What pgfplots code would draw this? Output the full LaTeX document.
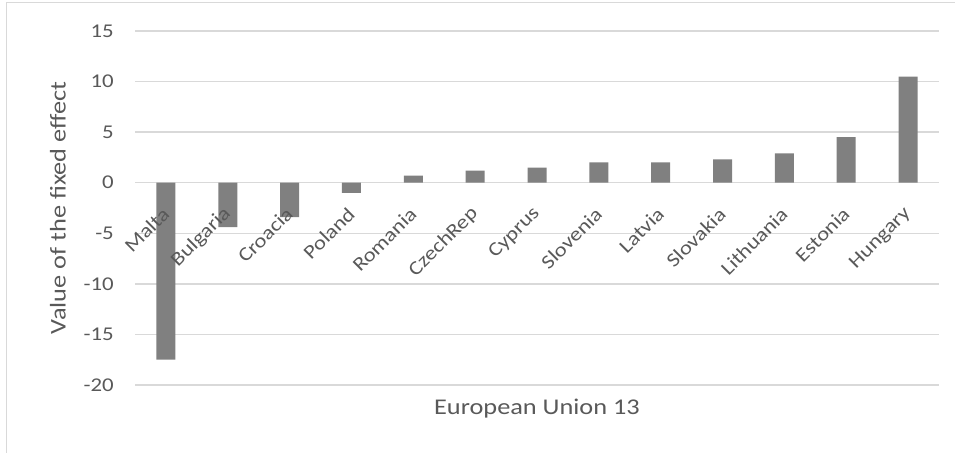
\documentclass[border=0pt]{standalone}
\usepackage{pgfplots}
\pgfplotsset{compat=1.18}
\usepackage{fontspec}
\setmainfont{Carlito}[FakeStretch=1.17]

\definecolor{bargray}{HTML}{808080}
\definecolor{txtgray}{HTML}{595959}
\definecolor{gridgray}{HTML}{D9D9D9}

\pgfplotsset{
  eubase/.style={
      at={(135bp,68bp)}, anchor=south west,
      width=804bp, height=354bp, scale only axis,
      xmin=-0.5, xmax=12.5,
      ymin=-20, ymax=15,
      ytick={-20,-15,...,15},
      xtick={0,1,...,12},
      axis line style={draw=none},
      major tick length=0pt,
  },
}

\begin{document}
\begin{tikzpicture}
  % page size and the light chart frame
  \path[use as bounding box] (0,0) rectangle (955bp,453bp);
  \draw[gridgray, line width=1.5bp] (6.7bp,-5bp) -- (6.7bp,450.3bp) -- (960bp,450.3bp);

  % grid and bars
  \begin{axis}[
      eubase,
      xticklabels={}, yticklabels={},
      ymajorgrids,
      grid style={gridgray, line width=1.4bp},
    ]
    \addplot[ybar, bar width=19bp, fill=bargray, draw=none] coordinates {
      (0,-17.5) (1,-4.4) (2,-3.4) (3,-1.0) (4,0.7) (5,1.2) (6,1.5)
      (7,2.0) (8,2.0) (9,2.3) (10,2.9) (11,4.5) (12,10.5)
    };
  \end{axis}

  % tick labels and titles, set over the bars
  \begin{axis}[
      eubase,
      xticklabels={Malta,Bulgaria,Croacia,Poland,Romania,CzechRep,Cyprus,Slovenia,Latvia,Slovakia,Lithuania,Estonia,Hungary},
      /pgf/number format/assume math mode=true,
      tick label style={font=\fontsize{19.5bp}{23bp}\selectfont, text=txtgray},
      yticklabel style={anchor=east, inner sep=0pt, xshift=-21bp},
      xticklabel style={yshift=174.3bp, rotate=45, anchor=east, inner sep=0pt},
      ylabel={Value of the fixed effect},
      ylabel style={at={(axis description cs:-0.0862,0.5)}, anchor=base,
                    font=\fontsize{22.5bp}{26bp}\selectfont, text=txtgray},
      xlabel={European Union 13},
      xlabel style={at={(axis description cs:0.5,-0.0839)}, anchor=base,
                    font=\fontsize{22.5bp}{26bp}\selectfont, text=txtgray},
    ]
  \end{axis}
\end{tikzpicture}
\end{document}
